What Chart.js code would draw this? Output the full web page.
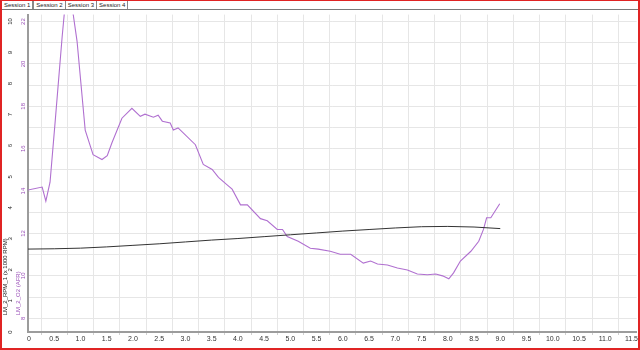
<!DOCTYPE html>
<html>
<head>
<meta charset="utf-8">
<script src="https://cdn.jsdelivr.net/npm/chart.js@4.4.0/dist/chart.umd.min.js"></script>
<style>
  html, body { margin: 0; padding: 0; background: #fff; }
  #frame {
    position: relative; width: 636px; height: 347px;
    border: 2px solid #e02424; border-top-width: 1px;
    overflow: hidden; background: #fff;
    font-family: "Liberation Sans", Arial, sans-serif;
  }
  #tabs {
    position: absolute; left: 0; top: 0; width: 636px; height: 8px;
    border-bottom: 1px solid #7a7a7a; font-size: 6px; line-height: 8px;
    color: #222; white-space: nowrap;
  }
  .tab { display: inline-block; padding: 0 2px 0 2px; border-right: 1px solid #888; height: 8px; }
  .tab.on { background: #fff; border-left: 1px solid #888; }
  #wrap { position: absolute; left: 0; top: 9px; width: 636px; height: 338px; }
</style>
</head>
<body>
<div id="frame">
  <div id="tabs"><span class="tab">Session 1</span><span class="tab on">Session 2</span><span class="tab">Session 3</span><span class="tab">Session 4</span></div>
  <div id="wrap"><canvas id="chart" width="636" height="338"></canvas></div>
</div>
<script>
// LM_2_O2 (AFR) trace, purple
const afrTime = [0, 0.27, 0.34, 0.42, 0.52, 0.65, 0.73, 0.80, 0.935, 1.09, 1.24, 1.41, 1.51, 1.60,
  1.79, 1.98, 2.14, 2.23, 2.39, 2.48, 2.56, 2.71, 2.77, 2.86, 3.19, 3.34, 3.51, 3.63, 3.80, 3.89,
  4.05, 4.18, 4.43, 4.56, 4.75, 4.85, 4.94, 5.15, 5.38, 5.53, 5.76, 5.95, 6.15, 6.39, 6.53, 6.66,
  6.85, 7.04, 7.23, 7.42, 7.61, 7.77, 7.90, 8.02, 8.11, 8.24, 8.44, 8.59, 8.68, 8.74, 8.82, 8.99];
const afrValues = [14.05, 14.19, 13.53, 14.42, 17.35, 21.26, 23.4, 23.4, 21.07, 16.88, 15.72, 15.49, 15.67, 16.28,
  17.44, 17.91, 17.53, 17.63, 17.49, 17.58, 17.30, 17.21, 16.88, 16.98, 16.19, 15.26, 15.02, 14.65, 14.28, 14.09,
  13.35, 13.35, 12.70, 12.60, 12.19, 12.19, 11.86, 11.63, 11.30, 11.26, 11.16, 11.02, 11.02, 10.60, 10.70, 10.56,
  10.51, 10.37, 10.28, 10.09, 10.05, 10.09, 10.00, 9.86, 10.14, 10.70, 11.16, 11.63, 12.19, 12.74, 12.74, 13.40];

// LM_2_RPM_1 (x 1000 RPM) trace, black
const rpmTime = [0, 0.5, 1.0, 1.5, 2.0, 2.5, 3.0, 3.5, 4.0, 4.5, 5.0, 5.5, 6.0, 6.5, 7.0, 7.5, 8.0, 8.5, 9.0];
const rpmValues = [2.67, 2.68, 2.70, 2.74, 2.79, 2.84, 2.90, 2.96, 3.01, 3.07, 3.13, 3.19, 3.25, 3.30, 3.35, 3.39, 3.40, 3.38, 3.33];

const afrLabels = [8, 10, 12, 14, 16, 18, 20, 22];
const rpmLabels = [0, 1, 2, 3, 4, 5, 6, 7, 8, 9, 10];

const purple = '#b070d0';
const purpleText = '#9a50b8';
const gridColor = '#e6e6e6';
const axisColor = '#9c9c9c';
const FONT = '"Liberation Sans", Arial, sans-serif';

const toPoints = (xs, ys) => xs.map((x, i) => ({ x: x, y: ys[i] }));
const isHalf = v => Math.abs(v * 2 - Math.round(v * 2)) < 1e-6;

new Chart(document.getElementById('chart'), {
  type: 'scatter',
  data: {
    datasets: [
      {
        label: 'LM_2_RPM_1',
        data: toPoints(rpmTime, rpmValues),
        yAxisID: 'rpm',
        showLine: true,
        borderColor: '#333',
        borderWidth: 1,
        pointRadius: 0,
      },
      {
        label: 'LM_2_O2',
        data: toPoints(afrTime, afrValues),
        yAxisID: 'afr',
        showLine: true,
        borderColor: purple,
        borderWidth: 1.1,
        pointRadius: 0,
      },
    ],
  },
  options: {
    responsive: false,
    animation: false,
    layout: { padding: 0 },
    plugins: { legend: { display: false }, tooltip: { enabled: false } },
    scales: {
      x: {
        type: 'linear',
        position: 'bottom',
        min: 0,
        max: 11.6,
        afterFit: (s) => { s.height = 16; },
        border: { color: axisColor, width: 2 },
        grid: {
          color: (c) => (c.tick && !isHalf(c.tick.value) ? gridColor : 'rgba(0,0,0,0)'),
          tickColor: (c) => (c.tick && !isHalf(c.tick.value) ? '#d0d0d0' : 'rgba(0,0,0,0)'),
          tickLength: 3,
        },
        ticks: {
          stepSize: 0.25,
          includeBounds: false,
          autoSkip: false,
          maxRotation: 0,
          padding: 0,
          color: '#333',
          font: { family: FONT, size: 7 },
          callback: (v) => (isHalf(v) ? (v === 0 ? ' 0' : v.toFixed(1)) : ''),
        },
      },
      afr: {
        type: 'linear',
        position: 'left',
        weight: 1,
        min: 7.35,
        max: 22.33,
        afterFit: (s) => { s.width = 13; },
        border: { color: axisColor, width: 2 },
        grid: { color: gridColor, drawTicks: false },
        ticks: {
          stepSize: 1,
          includeBounds: false,
          minRotation: 90,
          maxRotation: 90,
          crossAlign: 'center',
          padding: 1,
          color: purpleText,
          font: { family: FONT, size: 6 },
          callback: (v) => (afrLabels.includes(v) ? String(v) : ''),
        },
        title: {
          display: true,
          text: '          LM_2_O2 (AFR)',
          align: 'start',
          color: purpleText,
          font: { family: FONT, size: 6 },
          padding: 0,
        },
      },
      rpm: {
        type: 'linear',
        position: 'left',
        weight: 2,
        min: 0,
        max: 10.22,
        afterFit: (s) => { s.width = 13; },
        border: { display: false },
        grid: { drawOnChartArea: false, drawTicks: false },
        ticks: {
          stepSize: 1,
          includeBounds: false,
          minRotation: 90,
          maxRotation: 90,
          crossAlign: 'center',
          padding: 1,
          color: '#222',
          font: { family: FONT, size: 6 },
          callback: (v) => (rpmLabels.includes(v) ? String(v) : ''),
        },
        title: {
          display: true,
          text: '          LM_2_RPM_1 (x 1000 RPM)',
          align: 'start',
          color: '#222',
          font: { family: FONT, size: 6 },
          padding: 0,
        },
      },
    },
  },
});
</script>
</body>
</html>
